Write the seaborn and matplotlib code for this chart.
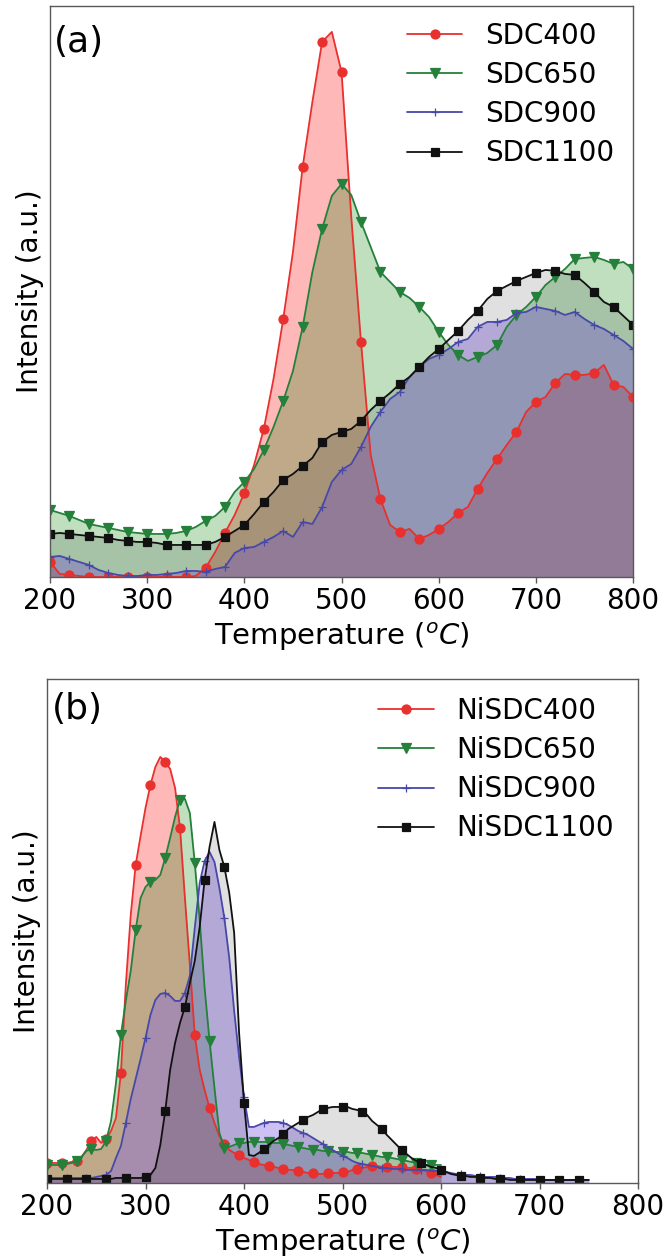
import numpy as np
import matplotlib
matplotlib.use('Agg')
import matplotlib.pyplot as plt
import seaborn as sns

sns.set_style('white')
plt.rcParams['font.family'] = ['DejaVu Sans']
plt.rcParams['mathtext.fontset'] = 'dejavusans'
plt.rcParams['text.color'] = 'black'
plt.rcParams['axes.labelcolor'] = 'black'
plt.rcParams['xtick.color'] = 'black'

# ---- panel (a): SDC, 200-800 C every 10 C ----
temp_a = np.arange(200, 801, 10)
sdc400 = [15, 3, 2, 1, 0, 0, 0, 0, 0, 0,
          0, 0, 0, 0, 0, 1, 9, 25, 44, 62,
          84, 112, 148, 198, 258, 325, 410, 475, 535, 545,
          505, 360, 235, 122, 78, 52, 45, 48, 38, 42,
          48, 55, 64, 70, 88, 104, 118, 132, 145, 165,
          175, 180, 194, 203, 202, 202, 204, 212, 192, 190,
          180]
sdc650 = [67, 64, 61, 57, 53, 51, 49, 47, 45, 44,
          43, 43, 43, 44, 46, 50, 56, 61, 70, 85,
          95, 108, 127, 150, 176, 206, 250, 305, 348, 381,
          393, 382, 355, 330, 305, 295, 285, 279, 270, 260,
          245, 232, 222, 216, 220, 224, 232, 250, 262, 270,
          280, 292, 300, 308, 318, 319, 320, 317, 313, 315,
          308]
sdc900 = [20, 21, 18, 15, 12, 7, 4, 2, 1, 1,
          2, 2, 3, 4, 6, 6, 5, 8, 10, 24,
          29, 30, 35, 40, 46, 40, 55, 53, 70, 95,
          107, 113, 130, 150, 165, 178, 185, 200, 210, 218,
          222, 228, 235, 238, 250, 255, 255, 257, 264, 265,
          270, 268, 266, 262, 265, 258, 252, 248, 242, 236,
          228]
sdc1100 = [43, 44, 43, 42, 41, 40, 39, 37, 36, 35,
           35, 34, 32, 32, 32, 32, 32, 35, 40, 46,
           52, 63, 75, 85, 97, 103, 111, 119, 135, 142,
           145, 148, 156, 167, 176, 184, 193, 200, 210, 220,
           228, 237, 246, 257, 266, 278, 286, 291, 296, 300,
           304, 307, 306, 303, 302, 294, 285, 275, 270, 261,
           252]

# ---- panel (b): NiSDC, every 5 C ----
temp_b = np.arange(200, 751, 5)
temp_b_short = np.arange(200, 601, 5)
nisdc400 = [20, 20, 20, 20, 20, 21, 22, 26, 33, 42,
            46, 40, 44, 52, 65, 110, 198, 268, 318, 347,
            375, 398, 416, 426, 421, 414, 395, 355, 285, 218,
            148, 113, 93, 75, 60, 47, 39, 33, 30, 28,
            25, 23, 21, 19, 18, 17, 16, 15, 14, 13,
            13, 12, 11, 10, 10, 9, 9, 10, 10, 10,
            11, 11, 13, 14, 15, 16, 17, 17, 16, 16,
            16, 16, 16, 15, 15, 14, 13, 12, 10, 8,
            6]
nisdc650 = [18, 18, 18, 18, 19, 20, 22, 26, 32, 34,
            33, 34, 42, 62, 100, 148, 182, 212, 253, 285,
            296, 301, 303, 308, 325, 345, 366, 383, 384, 370,
            320, 263, 195, 142, 95, 50, 35, 36, 38, 40,
            40, 41, 41, 41, 41, 41, 40, 40, 39, 38,
            37, 36, 35, 34, 33, 33, 32, 32, 31, 31,
            31, 31, 30, 30, 30, 29, 28, 27, 26, 26,
            25, 24, 23, 22, 21, 20, 19, 18, 18, 18,
            18]
nisdc900 = [5, 5, 5, 5, 5, 5, 5, 5, 5, 5,
            6, 7, 8, 12, 25, 37, 60, 84, 104, 124,
            145, 168, 183, 189, 190, 187, 182, 182, 190, 207,
            255, 300, 322, 331, 321, 295, 265, 225, 172, 126,
            86, 56, 56, 58, 60, 61, 61, 61, 60, 58,
            55, 52, 50, 48, 45, 42, 39, 36, 33, 30,
            27, 25, 22, 20, 19, 18, 17, 16, 15, 15,
            14, 14, 14, 13, 13, 13, 13, 13, 12, 12,
            12, 11, 10, 9, 9, 8, 8, 7, 7, 6,
            6, 6, 5, 5, 5, 4, 4, 4, 4, 4,
            3, 3, 3, 3, 3, 3, 3, 3, 3, 3,
            3]
nisdc1100 = [4, 4, 4, 4, 4, 4, 4, 4, 4, 4,
             4, 4, 4, 4, 5, 5, 5, 5, 5, 5,
             6, 8, 15, 38, 72, 113, 140, 160, 176, 200,
             222, 256, 303, 336, 361, 333, 316, 290, 250, 150,
             80, 28, 27, 30, 34, 38, 42, 45, 49, 54,
             57, 60, 63, 66, 68, 71, 74, 75, 76, 76,
             76, 76, 74, 73, 71, 68, 62, 58, 54, 48,
             43, 38, 33, 29, 25, 22, 20, 18, 16, 15,
             13, 11, 9, 8, 7, 7, 6, 6, 5, 5,
             5, 4, 4, 4, 3, 3, 3, 3, 3, 3,
             3, 3, 3, 3, 3, 3, 3, 3, 3, 3,
             3]

labels_a = ['SDC400', 'SDC650', 'SDC900', 'SDC1100']
labels_b = ['NiSDC400', 'NiSDC650', 'NiSDC900', 'NiSDC1100']

line_colors = ['#e8302e', '#24803a', '#4848a8', '#111111']
fill_colors = ['#ff0000', '#008000', '#8264e4', '#000000']
fill_alpha = [0.28, 0.25, 0.4, 0.12]
markers = ['o', 'v', '+', 's']
msizes = [6.5, 6.5, 6, 6]


def draw_panel(ax, xs, ys, labels, marks_every):
    for i in range(4):
        sns.lineplot(x=xs[i], y=ys[i], ax=ax, color=line_colors[i], lw=1.3,
                     marker=markers[i], markersize=msizes[i],
                     markeredgecolor=line_colors[i], markerfacecolor=line_colors[i],
                     markeredgewidth=0.9, markevery=marks_every[i],
                     label=labels[i], errorbar=None)
        ax.fill_between(xs[i], 0, ys[i], color=fill_colors[i],
                        alpha=fill_alpha[i], lw=0)
    ax.set_xlim(200, 800)
    ax.set_xticks([200, 300, 400, 500, 600, 700, 800])
    ax.set_yticks([])
    ax.tick_params(axis='x', labelsize=20, direction='out', length=4,
                   width=1, color='0.35', labelcolor='black', bottom=True)
    ax.set_xlabel('Temperature ($^oC$)', fontsize=21, color='black')
    ax.set_ylabel('Intensity (a.u.)', fontsize=20, labelpad=4, color='black')
    for sp in ax.spines.values():
        sp.set_color('0.35')
        sp.set_linewidth(1)


fig = plt.figure(figsize=(6.68, 12.57), dpi=100)

ax1 = fig.add_axes([0.0749, 0.5410, 0.8728, 0.4543])
draw_panel(ax1, [temp_a] * 4, [sdc400, sdc650, sdc900, sdc1100], labels_a,
           [2, 2, 2, 2])
ax1.set_ylim(0, 571)
ax1.text(0.006, 0.967, '(a)', transform=ax1.transAxes, fontsize=26,
         va='top', ha='left', color='black')
leg1 = ax1.legend(loc='upper left', bbox_to_anchor=(0.612, 0.972), frameon=False,
                  fontsize=20, borderaxespad=0, borderpad=0, labelspacing=0.4,
                  handlelength=2.0, handletextpad=0.8)
for t in leg1.get_texts():
    t.set_color('black')

ax2 = fig.add_axes([0.0704, 0.0589, 0.8847, 0.4010])
draw_panel(ax2, [temp_b_short, temp_b_short, temp_b, temp_b],
           [nisdc400, nisdc650, nisdc900, nisdc1100], labels_b,
           [3, 3, 4, 4])
ax2.set_ylim(0, 504)
ax2.text(0.0085, 0.974, '(b)', transform=ax2.transAxes, fontsize=26,
         va='top', ha='left', color='black')
leg2 = ax2.legend(loc='upper left', bbox_to_anchor=(0.56, 0.964), frameon=False,
                  fontsize=20, borderaxespad=0, borderpad=0, labelspacing=0.4,
                  handlelength=2.0, handletextpad=0.8)
for t in leg2.get_texts():
    t.set_color('black')

fig.savefig('out.png', dpi=100)
